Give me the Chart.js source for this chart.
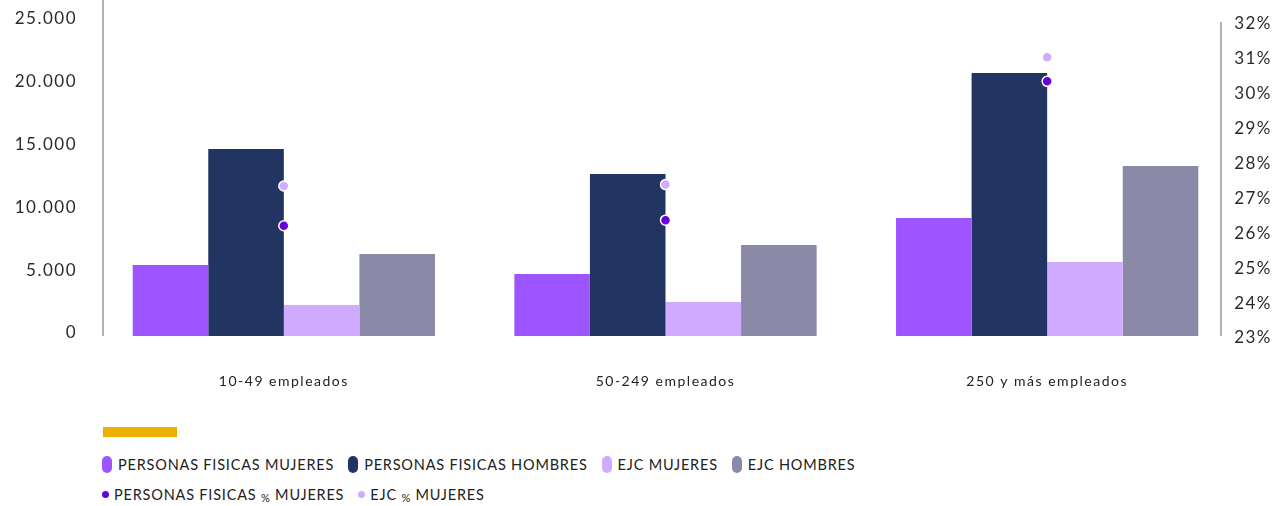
<!DOCTYPE html>
<html lang="es">
<head>
<meta charset="utf-8">
<title>Empleo por tamaño de empresa</title>
<script src="https://cdn.jsdelivr.net/npm/chart.js@4.4.1/dist/chart.umd.min.js"></script>
<style>
  html, body { margin: 0; padding: 0; background: #fff; }
  body { width: 1286px; height: 506px; position: relative; overflow: hidden; font-family: Lato, "Open Sans", sans-serif; color: #222; }
  .chart-box { position: absolute; left: 0; top: 0; width: 1286px; height: 410px; }
  .accent { position: absolute; left: 103px; top: 427px; width: 74px; height: 10px; background: #ecb100; }
  .legend-row { position: absolute; left: 102px; display: flex; align-items: center; font-size: 14.5px; letter-spacing: 0.8px; white-space: nowrap; }
  .legend-row .item { display: flex; align-items: center; margin-right: 14px; }
  .pill { width: 10px; height: 17px; border-radius: 5px; margin-right: 6px; }
  .dot { width: 7px; height: 7px; border-radius: 50%; margin-right: 5px; }
  .pct { font-size: 11px; position: relative; top: 2px; }
</style>
</head>
<body>
<div class="chart-box"><canvas id="empleoChart"></canvas></div>
<div class="accent"></div>
<div class="legend-row" id="legendBars" style="top:456px"></div>
<div class="legend-row" id="legendPoints" style="top:486px"></div>

<script>
// ---------- Data ----------
const categories = ["10-49 empleados", "50-249 empleados", "250 y más empleados"];

const pfMujeres = [5650, 4940, 9400];
const pfHombres = [14890, 12900, 20940];
const ejcMujeres = [2470, 2710, 5890];
const ejcHombres = [6530, 7250, 13540];

// share of women, right axis (%)
const pfPctMujeres = [26.16, 26.32, 30.30];
const ejcPctMujeres = [27.30, 27.34, 30.99];

const leftTickLabels = ["0", "5.000", "10.000", "15.000", "20.000", "25.000"];
const rightTickLabels = ["23%", "24%", "25%", "26%", "27%", "28%", "29%", "30%", "31%", "32%"];

const colors = {
    pfMujeres: "#9d55ff",
    pfHombres: "#223461",
    ejcMujeres: "#d1abff",
    ejcHombres: "#8a89a8",
    pfPct: "#6600dd",
    ejcPct: "#d1abff"
};

document.addEventListener("DOMContentLoaded", () => {
    // ---------- Axis lines ----------
    // the two vertical rules sit a bit inside the plot area
    const axisLines = {
        id: "axisLines",
        beforeDraw(chart) {
            // wider tracking for all canvas text
            chart.ctx.letterSpacing = "1.5px";
        },
        beforeDatasetsDraw(chart) {
            const { ctx, chartArea, scales } = chart;
            const bottom = scales.y.getPixelForValue(0);
            ctx.save();
            ctx.strokeStyle = "#9b9b9b";
            ctx.lineWidth = 1.5;
            ctx.beginPath();
            ctx.moveTo(chartArea.left + 10, 0);
            ctx.lineTo(chartArea.left + 10, bottom);
            ctx.moveTo(chartArea.right - 17, scales.y1.getPixelForValue(32));
            ctx.lineTo(chartArea.right - 17, bottom);
            ctx.stroke();
            ctx.restore();
        }
    };

    const tickFont = { family: "Lato", size: 17 };

    // fixed width, and no extra vertical padding from the tick labels
    const fitY = (width) => (scale) => {
        scale.width = width;
        scale.paddingTop = 0;
        scale.paddingBottom = 0;
    };

    const barSet = (label, data, color) => ({
        type: "bar",
        label,
        data,
        backgroundColor: color,
        yAxisID: "y",
        order: 2,
        categoryPercentage: 0.792,
        barPercentage: 1
    });

    const pointSet = (label, data, color) => ({
        type: "line",
        label,
        data,
        showLine: false,
        pointRadius: 5,
        pointHoverRadius: 5,
        pointBackgroundColor: color,
        pointBorderColor: "#ffffff",
        pointBorderWidth: 1.5,
        yAxisID: "y1",
        order: 1
    });

    const datasets = [
        barSet("PERSONAS FISICAS MUJERES", pfMujeres, colors.pfMujeres),
        barSet("PERSONAS FISICAS HOMBRES", pfHombres, colors.pfHombres),
        barSet("EJC MUJERES", ejcMujeres, colors.ejcMujeres),
        barSet("EJC HOMBRES", ejcHombres, colors.ejcHombres),
        pointSet("PERSONAS FISICAS % MUJERES", pfPctMujeres, colors.pfPct),
        pointSet("EJC % MUJERES", ejcPctMujeres, colors.ejcPct)
    ];

    new Chart(document.getElementById("empleoChart"), {
        data: { labels: categories, datasets },
        options: {
            responsive: true,
            maintainAspectRatio: false,
            animation: false,
            layout: { padding: { top: 22, left: 0, right: 0, bottom: 0 } },
            plugins: {
                legend: { display: false },
                tooltip: { enabled: false }
            },
            scales: {
                x: {
                    offset: true,
                    grid: { display: false, drawTicks: false },
                    border: { display: false },
                    ticks: { color: "#222", font: { family: "Lato", size: 14 }, padding: 37 },
                    afterFit: (scale) => { scale.height = 74; }
                },
                y: {
                    position: "left",
                    min: 0,
                    max: 25000,
                    grid: { display: false, drawTicks: false },
                    border: { display: false },
                    ticks: {
                        stepSize: 5000,
                        color: "#2b2b2b",
                        font: tickFont,
                        padding: 16,
                        labelOffset: -3,
                        callback: (v, i) => leftTickLabels[i]
                    },
                    afterFit: fitY(93)
                },
                y1: {
                    position: "right",
                    min: 23,
                    max: 32,
                    grid: { display: false, drawTicks: false },
                    border: { display: false },
                    ticks: {
                        stepSize: 1,
                        color: "#2b2b2b",
                        font: tickFont,
                        mirror: true,
                        padding: 34,
                        labelOffset: 2,
                        callback: (v, i) => rightTickLabels[i]
                    },
                    afterFit: fitY(48)
                }
            }
        },
        plugins: [axisLines]
    });

    // ---------- Legend ----------
    const legendBars = document.getElementById("legendBars");
    const legendPoints = document.getElementById("legendPoints");

    const labelHtml = (text) => text.replace("%", '<span class="pct">%</span>');

    datasets.forEach(ds => {
        const isBar = ds.type === "bar";
        const color = isBar ? ds.backgroundColor : ds.pointBackgroundColor;
        const item = document.createElement("div");
        item.className = "item";
        item.innerHTML = `<span class="${isBar ? "pill" : "dot"}" style="background:${color}"></span><span>${labelHtml(ds.label)}</span>`;
        (isBar ? legendBars : legendPoints).appendChild(item);
    });
});
</script>
</body>
</html>
